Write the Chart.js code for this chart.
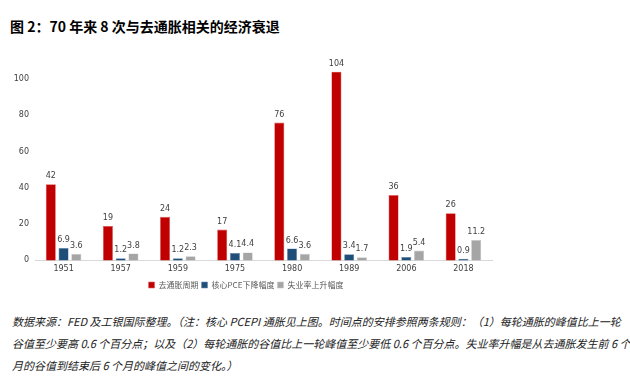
<!DOCTYPE html>
<html>
<head>
<meta charset="utf-8">
<script src="https://cdn.jsdelivr.net/npm/chart.js@4/dist/chart.umd.min.js"></script>
<style>
  body { margin: 0; width: 630px; height: 377px; background: #fff; position: relative; overflow: hidden; font-family: "Noto Sans CJK SC", sans-serif; }
  #title { position: absolute; left: 10px; top: 16px; font-size: 14px; font-weight: bold; color: #000; white-space: nowrap; }
  #wrap { position: absolute; left: 0; top: 50px; width: 510px; height: 250px; }
  #note { position: absolute; left: 12px; top: 310px; font-size: 11px; font-style: italic; color: #222; line-height: 22px; white-space: nowrap; }
</style>
</head>
<body>
<div id="title">图 2：70 年来 8 次与去通胀相关的经济衰退</div>
<div id="wrap"><canvas id="chart"></canvas></div>
<div id="note">数据来源：FED 及工银国际整理。（注：核心 PCEPI 通胀见上图。时间点的安排参照两条规则：（1）每轮通胀的峰值比上一轮<br>谷值至少要高 0.6 个百分点；以及（2）每轮通胀的谷值比上一轮峰值至少要低 0.6 个百分点。失业率升幅是从去通胀发生前 6 个<br>月的谷值到结束后 6 个月的峰值之间的变化。）</div>
<script>
  const years = ['1951', '1957', '1959', '1975', '1980', '1989', '2006', '2018'];
  const cycleMonths = [42, 19, 24, 17, 76, 104, 36, 26];
  const pceDrop = [6.9, 1.2, 1.2, 4.1, 6.6, 3.4, 1.9, 0.9];
  const unempRise = [3.6, 3.8, 2.3, 4.4, 3.6, 1.7, 5.4, 11.2];
  const yTicks = [0, 20, 40, 60, 80, 100];

  const barLabels = {
    id: 'barLabels',
    afterDatasetsDraw(chart) {
      const ctx = chart.ctx;
      ctx.save();
      ctx.font = '8px "DejaVu Sans", sans-serif';
      ctx.fillStyle = '#404040';
      ctx.textAlign = 'center';
      ctx.textBaseline = 'bottom';
      chart.data.datasets.forEach((ds, i) => {
        chart.getDatasetMeta(i).data.forEach((bar, j) => {
          ctx.fillText(String(ds.data[j]), bar.x, bar.y - 4);
        });
      });
      ctx.restore();
    }
  };

  new Chart(document.getElementById('chart'), {
    type: 'bar',
    data: {
      labels: years,
      datasets: [
        { label: '去通胀周期', data: cycleMonths, backgroundColor: '#C00000', borderColor: '#E06060', borderWidth: 0.6 },
        { label: '核心PCE下降幅度', data: pceDrop, backgroundColor: '#1F4E79', borderColor: '#6F8FB0', borderWidth: 0.6 },
        { label: '失业率上升幅度', data: unempRise, backgroundColor: '#A5A5A5', borderColor: '#C8C8C8', borderWidth: 0.6 }
      ]
    },
    options: {
      responsive: true,
      maintainAspectRatio: false,
      animation: false,
      clip: false,
      layout: { padding: { top: 29, right: 18, left: 0, bottom: 1 } },
      datasets: { bar: { categoryPercentage: 0.67, barPercentage: 0.79 } },
      plugins: {
        legend: {
          position: 'bottom',
          labels: { boxWidth: 6, boxHeight: 6, padding: 3, color: '#595959', font: { size: 8, family: '"Noto Sans CJK SC", sans-serif' } }
        },
        tooltip: { enabled: false }
      },
      scales: {
        x: {
          grid: { display: false, drawTicks: false },
          border: { color: '#D9D9D9', width: 1 },
          ticks: { color: '#404040', font: { size: 8, family: '"DejaVu Sans", sans-serif' }, padding: 4 }
        },
        y: {
          min: 0, max: 100,
          afterFit(scale) { scale.width = 35; },
          afterBuildTicks(scale) { scale.ticks = yTicks.map(v => ({ value: v })); },
          grid: { display: false, drawTicks: false },
          border: { display: false },
          ticks: { color: '#404040', font: { size: 8, family: '"DejaVu Sans", sans-serif' }, padding: 6 }
        }
      }
    },
    plugins: [barLabels]
  });
</script>
</body>
</html>
